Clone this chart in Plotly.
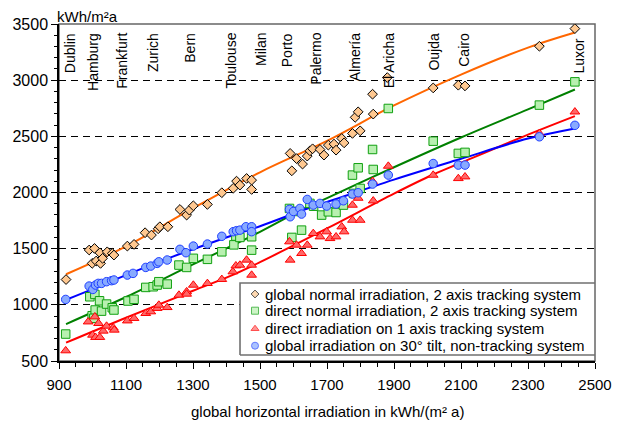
import plotly.graph_objects as go

# ---------------- data ----------------
gn_x = [921, 990, 1006, 1022, 999, 1011, 1024, 1030, 1044, 1059, 1064, 1104, 1124, 1157, 1176, 1196, 1201, 1225,
        1261, 1281, 1289, 1301, 1343, 1386, 1420, 1430, 1440, 1460, 1475, 1475,
        1590, 1595, 1609, 1627, 1641, 1649, 1657, 1679, 1691, 1704, 1721, 1727, 1744, 1751, 1776, 1784, 1799,
        1793, 1838, 1836, 1880, 2017, 2092, 2112, 2334, 2440]
gn_y = [1225, 1488, 1502, 1463, 1369, 1390, 1369, 1414, 1472, 1458, 1443, 1523, 1538, 1642, 1621, 1677, 1695, 1695,
        1849, 1799, 1843, 1882, 1894, 1998, 2037, 2101, 2066, 2125, 2027, 2110,
        2348, 2193, 2302, 2253, 2324, 2371, 2389, 2383, 2333, 2422, 2431, 2377, 2481, 2442, 2526, 2669, 2549,
        2718, 2698, 2875, 3023, 2931, 2955, 2949, 3302, 3459]

dn_x = [920, 992, 1007, 1021, 999, 1008, 1004, 1027, 1042, 1059, 1064, 1106, 1124, 1159, 1181, 1193, 1198, 1223,
        1258, 1281, 1301, 1343, 1386, 1422, 1428, 1440, 1475, 1475,
        1588, 1609, 1595, 1624, 1649, 1660, 1684, 1704, 1727, 1749, 1779, 1799, 1776, 1793, 1836, 1838,
        1883, 2017, 2092, 2112, 2334, 2440]
dn_y = [740, 1072, 1093, 1036, 903, 954, 880, 944, 1007, 974, 954, 1034, 1049, 1155, 1161, 1176, 1206, 1185,
        1354, 1333, 1414, 1405, 1472, 1534, 1612, 1600, 1606, 1487,
        1858, 1831, 1600, 1665, 1903, 1878, 1799, 1828, 1822, 1888, 1992, 2036, 2155, 2220, 2383, 2205,
        2748, 2457, 2348, 2357, 2778, 2985]

d1_x = [920, 987, 1007, 1018, 1000, 1009, 1022, 1032, 1042, 1062, 1065, 1104, 1124, 1159, 1174, 1193, 1198, 1223,
        1258, 1281, 1281, 1301, 1343, 1386, 1419, 1428, 1440, 1460, 1475, 1475,
        1588, 1590, 1609, 1624, 1641, 1659, 1679, 1699, 1709, 1727, 1744, 1751, 1776, 1799, 1776, 1793, 1838,
        1836, 1883, 2017, 2092, 2112, 2334, 2440]
d1_y = [592, 849, 894, 835, 731, 711, 711, 767, 811, 796, 776, 858, 880, 924, 939, 969, 998, 977,
        1087, 1117, 1096, 1176, 1191, 1227, 1295, 1348, 1354, 1399, 1354, 1265,
        1562, 1399, 1532, 1458, 1532, 1636, 1606, 1651, 1591, 1606, 1695, 1651, 1754, 1754, 1888, 1950, 1926,
        2100, 2235, 2155, 2125, 2140, 2526, 2718]

gt_x = [920, 990, 1001, 1009, 1017, 1027, 1042, 1057, 1064, 1104, 1121, 1159, 1174, 1193, 1198, 1223,
        1261, 1279, 1301, 1343, 1386, 1420, 1430, 1440, 1458, 1475, 1475,
        1588, 1590, 1600, 1619, 1624, 1641, 1659, 1679, 1699, 1727, 1749, 1776, 1793, 1836,
        1883, 2017, 2092, 2112, 2334, 2440]
gt_y = [1048, 1167, 1137, 1176, 1191, 1191, 1206, 1215, 1221, 1265, 1280, 1333, 1345, 1369, 1383, 1399,
        1494, 1464, 1523, 1541, 1610, 1651, 1660, 1665, 1695, 1695, 1651,
        1850, 1784, 1831, 1858, 1808, 1938, 1888, 1903, 1879, 1897, 1926, 1986, 1998, 2075,
        2155, 2258, 2244, 2244, 2496, 2598]

# fitted trend lines
gn_fit_x = [921, 1100, 1300, 1500, 1700, 1900, 2100, 2300, 2440]
gn_fit_y = [1272, 1520, 1860, 2180, 2460, 2775, 3050, 3290, 3424]
dn_fit_x = [921, 1100, 1300, 1410, 1500, 1640, 1700, 1900, 2100, 2300, 2440]
dn_fit_y = [829, 1070, 1360, 1517, 1650, 1870, 1950, 2225, 2490, 2740, 2917]
d1_fit_x = [921, 1100, 1300, 1410, 1500, 1700, 1900, 2017, 2100, 2300, 2440]
d1_fit_y = [663, 885, 1125, 1255, 1380, 1680, 1990, 2160, 2265, 2515, 2680]
gt_fit_x = [921, 1000, 1100, 1200, 1300, 1410, 1500, 1640, 1700, 1900, 2100, 2300, 2440]
gt_fit_y = [1045, 1140, 1265, 1385, 1495, 1610, 1700, 1855, 1915, 2115, 2300, 2480, 2570]

cities = ["Dublin", "Hamburg", "Frankfurt", "Zurich", "Bern", "Toulouse", "Milan", "Porto",
          "Palermo", "Almería", "El Aricha", "Oujda", "Cairo", "Luxor"]
city_x = [933, 1001, 1087, 1179, 1290, 1415, 1501, 1581, 1666, 1784, 1884, 2021, 2108, 2452]

names = ["global normal irradiation, 2 axis tracking system",
         "direct normal irradiation, 2 axis tracking system",
         "direct irradiation on 1 axis tracking system",
         "global irradiation on 30° tilt, non-tracking system"]

x_ticks = [900, 1100, 1300, 1500, 1700, 1900, 2100, 2300, 2500]
y_ticks = [500, 1000, 1500, 2000, 2500, 3000, 3500]

FONT = "Arial, Liberation Sans, sans-serif"

fill_cols = ["#FFC890", "#B8F0B0", "#FF6868", "#88AAFF"]
edge_cols = ["#000000", "#10A010", "#FF0000", "#2040FF"]
line_cols = ["#FF6600", "#008000", "#FF0000", "#0000FF"]
symbols = ["diamond", "square", "triangle-up", "circle"]
sizes = [7.5, 8.5, 8.5, 8.5]

fig = go.Figure()

# trend lines
for (fx, fy), col in zip([(gn_fit_x, gn_fit_y), (dn_fit_x, dn_fit_y),
                          (d1_fit_x, d1_fit_y), (gt_fit_x, gt_fit_y)], line_cols):
    fig.add_trace(go.Scatter(x=fx, y=fy, mode="lines", line=dict(color=col, width=2),
                             showlegend=False, hoverinfo="skip", line_shape="spline"))

# data points
for (px, py), i in zip([(gn_x, gn_y), (dn_x, dn_y), (d1_x, d1_y), (gt_x, gt_y)], range(4)):
    fig.add_trace(go.Scatter(x=px, y=py, mode="markers", name=names[i], showlegend=False,
                             marker=dict(symbol=symbols[i], size=sizes[i], color=fill_cols[i],
                                         line=dict(color=edge_cols[i], width=1))))

# ---- hand-made legend on an overlay axis (0..1 = plot area) ----
lg_x0, lg_x1, lg_y0, lg_y1 = 0.3377, 1.0, 0.0178, 0.2315
lg_rows = [0.1988, 0.1493, 0.0958, 0.0454]
lg_sym_x = 0.3657
lg_txt_x = 0.3806
fig.add_trace(go.Scatter(x=[lg_x0, lg_x1, lg_x1, lg_x0, lg_x0], y=[lg_y0, lg_y0, lg_y1, lg_y1, lg_y0],
                         xaxis="x2", yaxis="y2", mode="lines", fill="toself", fillcolor="white",
                         line=dict(color="#707070", width=1.6), showlegend=False, hoverinfo="skip"))
fig.add_trace(go.Scatter(x=[lg_sym_x] * 4, y=lg_rows, xaxis="x2", yaxis="y2", mode="markers",
                         showlegend=False, hoverinfo="skip",
                         marker=dict(symbol=symbols, size=[6, 7, 7, 7], color=fill_cols,
                                     line=dict(color=edge_cols, width=1))))
for name, ry in zip(names, lg_rows):
    fig.add_annotation(x=lg_txt_x, y=ry, xref="x2", yref="y2", text=name, showarrow=False,
                       xanchor="left", yanchor="middle",
                       font=dict(family=FONT, size=15, color="black"))

for name, cx in zip(cities, city_x):
    fig.add_annotation(x=cx, y=0.964 if name == "Luxor" else 0.979, xref="x", yref="paper",
                       text=name, textangle=-90, showarrow=False,
                       xanchor="center", yanchor="top",
                       font=dict(family=FONT, size=14, color="black"))

fig.add_annotation(x=-0.0075, y=1, xref="paper", yref="paper", text="kWh/m²a", showarrow=False,
                   xanchor="left", yanchor="bottom", yshift=-3,
                   font=dict(family=FONT, size=15, color="black"))

# x-axis title
fig.add_annotation(x=0.5, y=-0.1513, xref="paper", yref="paper",
                   text="global horizontal irradiation in kWh/(m² a)", showarrow=False,
                   xanchor="center", yanchor="middle",
                   font=dict(family=FONT, size=15, color="black"))

# gray frame top/right
fig.add_shape(type="rect", xref="paper", yref="paper", x0=0, y0=0, x1=1, y1=1,
              line=dict(color="#666666", width=1.5), layer="below")

fig.update_layout(
    width=621, height=421,
    margin=dict(l=59, r=26, t=24, b=60, autoexpand=False),
    plot_bgcolor="white", paper_bgcolor="white",
    font=dict(family=FONT, size=15, color="black"),
    showlegend=False,
    xaxis=dict(range=[900, 2500], tickvals=x_ticks, ticks="outside", ticklen=6, tickwidth=1,
               tickcolor="black", showline=True, linecolor="black", linewidth=1.5,
               showgrid=False, zeroline=False, automargin=False, ticklabelstandoff=3,
               minor=dict(dtick=50, tick0=900, ticks="outside", ticklen=4, tickcolor="black", showgrid=False),
               tickfont=dict(family=FONT, size=15)),
    yaxis=dict(range=[500, 3500], tickvals=y_ticks, ticks="outside", ticklen=6, tickwidth=1,
               tickcolor="black", showline=True, linecolor="black", linewidth=1.5,
               showgrid=True, gridcolor="#000000", gridwidth=1, griddash="7px,5px",
               zeroline=False, automargin=False,
               minor=dict(dtick=100, tick0=500, ticks="outside", ticklen=3, tickcolor="black", showgrid=False),
               tickfont=dict(family=FONT, size=16)),
    xaxis2=dict(overlaying="x", anchor="y2", range=[0, 1], visible=False, fixedrange=True, automargin=False),
    yaxis2=dict(overlaying="y", anchor="x2", range=[0, 1], visible=False, fixedrange=True, automargin=False),
)

fig.write_html(
    "out.html",
    config={"displayModeBar": False},
    post_script=("document.documentElement.style.margin='0';document.body.style.margin='0';"
                 "document.documentElement.style.overflow='hidden';document.body.style.overflow='hidden';"),
)
